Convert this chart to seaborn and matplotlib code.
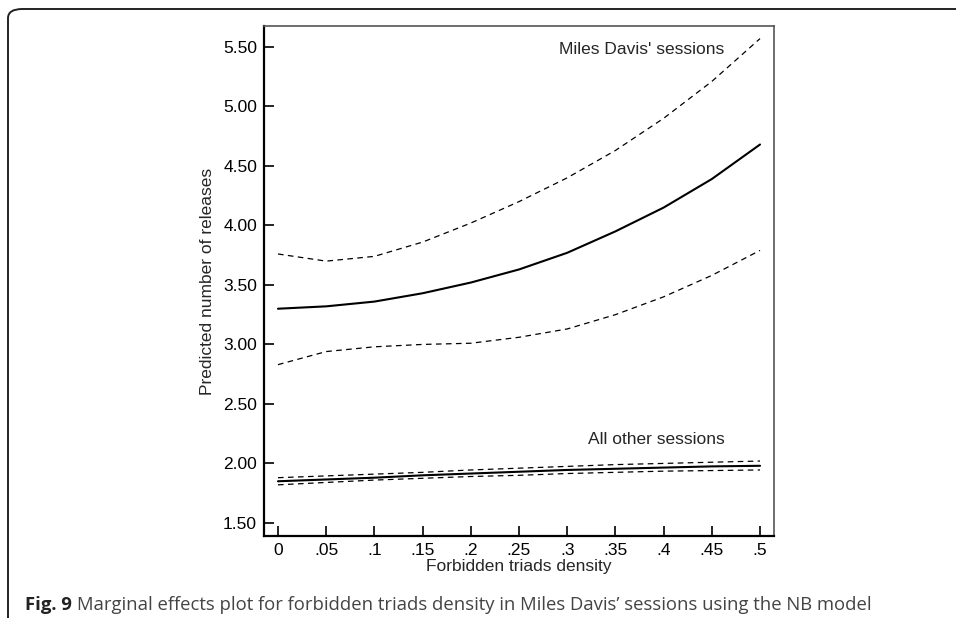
import numpy as np
import pandas as pd
import matplotlib
matplotlib.use("Agg")
import matplotlib.pyplot as plt
from matplotlib.patches import FancyBboxPatch
import seaborn as sns

# forbidden triads density grid
density = [0, .05, .1, .15, .2, .25, .3, .35, .4, .45, .5]
xtick_labels = ["0", ".05", ".1", ".15", ".2", ".25", ".3", ".35", ".4", ".45", ".5"]
ytick_vals = [1.5, 2.0, 2.5, 3.0, 3.5, 4.0, 4.5, 5.0, 5.5]
ytick_labels = ["1.50", "2.00", "2.50", "3.00", "3.50", "4.00", "4.50", "5.00", "5.50"]

# Miles Davis' sessions
miles_mean = [3.30, 3.32, 3.36, 3.43, 3.52, 3.63, 3.77, 3.95, 4.15, 4.39, 4.68]
miles_upper = [3.76, 3.70, 3.74, 3.86, 4.02, 4.20, 4.40, 4.63, 4.90, 5.21, 5.57]
miles_lower = [2.83, 2.94, 2.98, 3.00, 3.01, 3.06, 3.13, 3.25, 3.40, 3.58, 3.79]

# all other sessions
other_mean = [1.85, 1.865, 1.88, 1.90, 1.915, 1.93, 1.945, 1.955, 1.965, 1.975, 1.98]
other_upper = [1.88, 1.895, 1.91, 1.925, 1.945, 1.96, 1.975, 1.99, 2.00, 2.01, 2.02]
other_lower = [1.82, 1.84, 1.86, 1.875, 1.89, 1.90, 1.915, 1.925, 1.935, 1.94, 1.945]

sns.set_style("ticks")
plt.rcParams["font.family"] = ["Liberation Sans", "DejaVu Sans"]

fig = plt.figure(figsize=(9.56, 6.18), dpi=100)
ax = fig.add_axes([264 / 956, 1 - 536 / 618, 510 / 956, 510 / 618])

series = [
    (miles_mean, "-", 1.5),
    (miles_upper, "--", 0.9),
    (miles_lower, "--", 0.9),
    (other_mean, "-", 1.5),
    (other_upper, "--", 0.9),
    (other_lower, "--", 0.9),
]
for vals, ls, lw in series:
    df = pd.DataFrame({"density": density, "pred": vals})
    sns.lineplot(data=df, x="density", y="pred", ax=ax, color="black",
                 linestyle=ls, linewidth=lw)
    if ls == "--":
        ax.lines[-1].set_dashes((4.5, 3.5))

ax.set_xlim(-0.0145, 0.5145)
ax.set_ylim(1.39, 5.676)
ax.set_xticks(density)
ax.set_xticklabels(xtick_labels)
ax.set_yticks(ytick_vals)
ax.set_yticklabels(ytick_labels)
ax.tick_params(direction="in", length=7, width=1.2, labelsize=12.5, colors="black", pad=5)
ax.set_xlabel("Forbidden triads density", fontsize=12.5, labelpad=1)
ax.set_ylabel("Predicted number of releases", fontsize=12.5, labelpad=6)

for side in ["left", "bottom"]:
    ax.spines[side].set_linewidth(1.6)
    ax.spines[side].set_color("black")
for side in ["right", "top"]:
    ax.spines[side].set_visible(True)
    ax.spines[side].set_linewidth(1.2)
    ax.spines[side].set_color("#555555")

ax.text(0.463, 5.475, "Miles Davis' sessions", ha="right", va="center", fontsize=12.5)
ax.text(0.463, 2.20, "All other sessions", ha="right", va="center", fontsize=12.5)

# journal frame around the figure
frame = FancyBboxPatch((8 / 956, -0.2), 1.2, 1 - 9 / 618 + 0.2,
                       boxstyle="round,pad=0,rounding_size=0.015",
                       transform=fig.transFigure, fill=False,
                       edgecolor="#222222", linewidth=1.4, clip_on=False)
fig.add_artist(frame)

# caption
t1 = fig.text(25 / 956, 1 - 610 / 618, "Fig. 9", fontsize=13.3, fontweight="bold",
              family=["Open Sans", "DejaVu Sans"], color="#222222", va="baseline")
ax.annotate("Marginal effects plot for forbidden triads density in Miles Davis\u2019 sessions using the NB model",
            xy=(1, 0), xycoords=t1, xytext=(4, 0), textcoords="offset points",
            fontsize=13.3, family=["Open Sans", "DejaVu Sans"], color="#444444",
            va="bottom", ha="left", annotation_clip=False)

fig.savefig("out.png", dpi=100)
